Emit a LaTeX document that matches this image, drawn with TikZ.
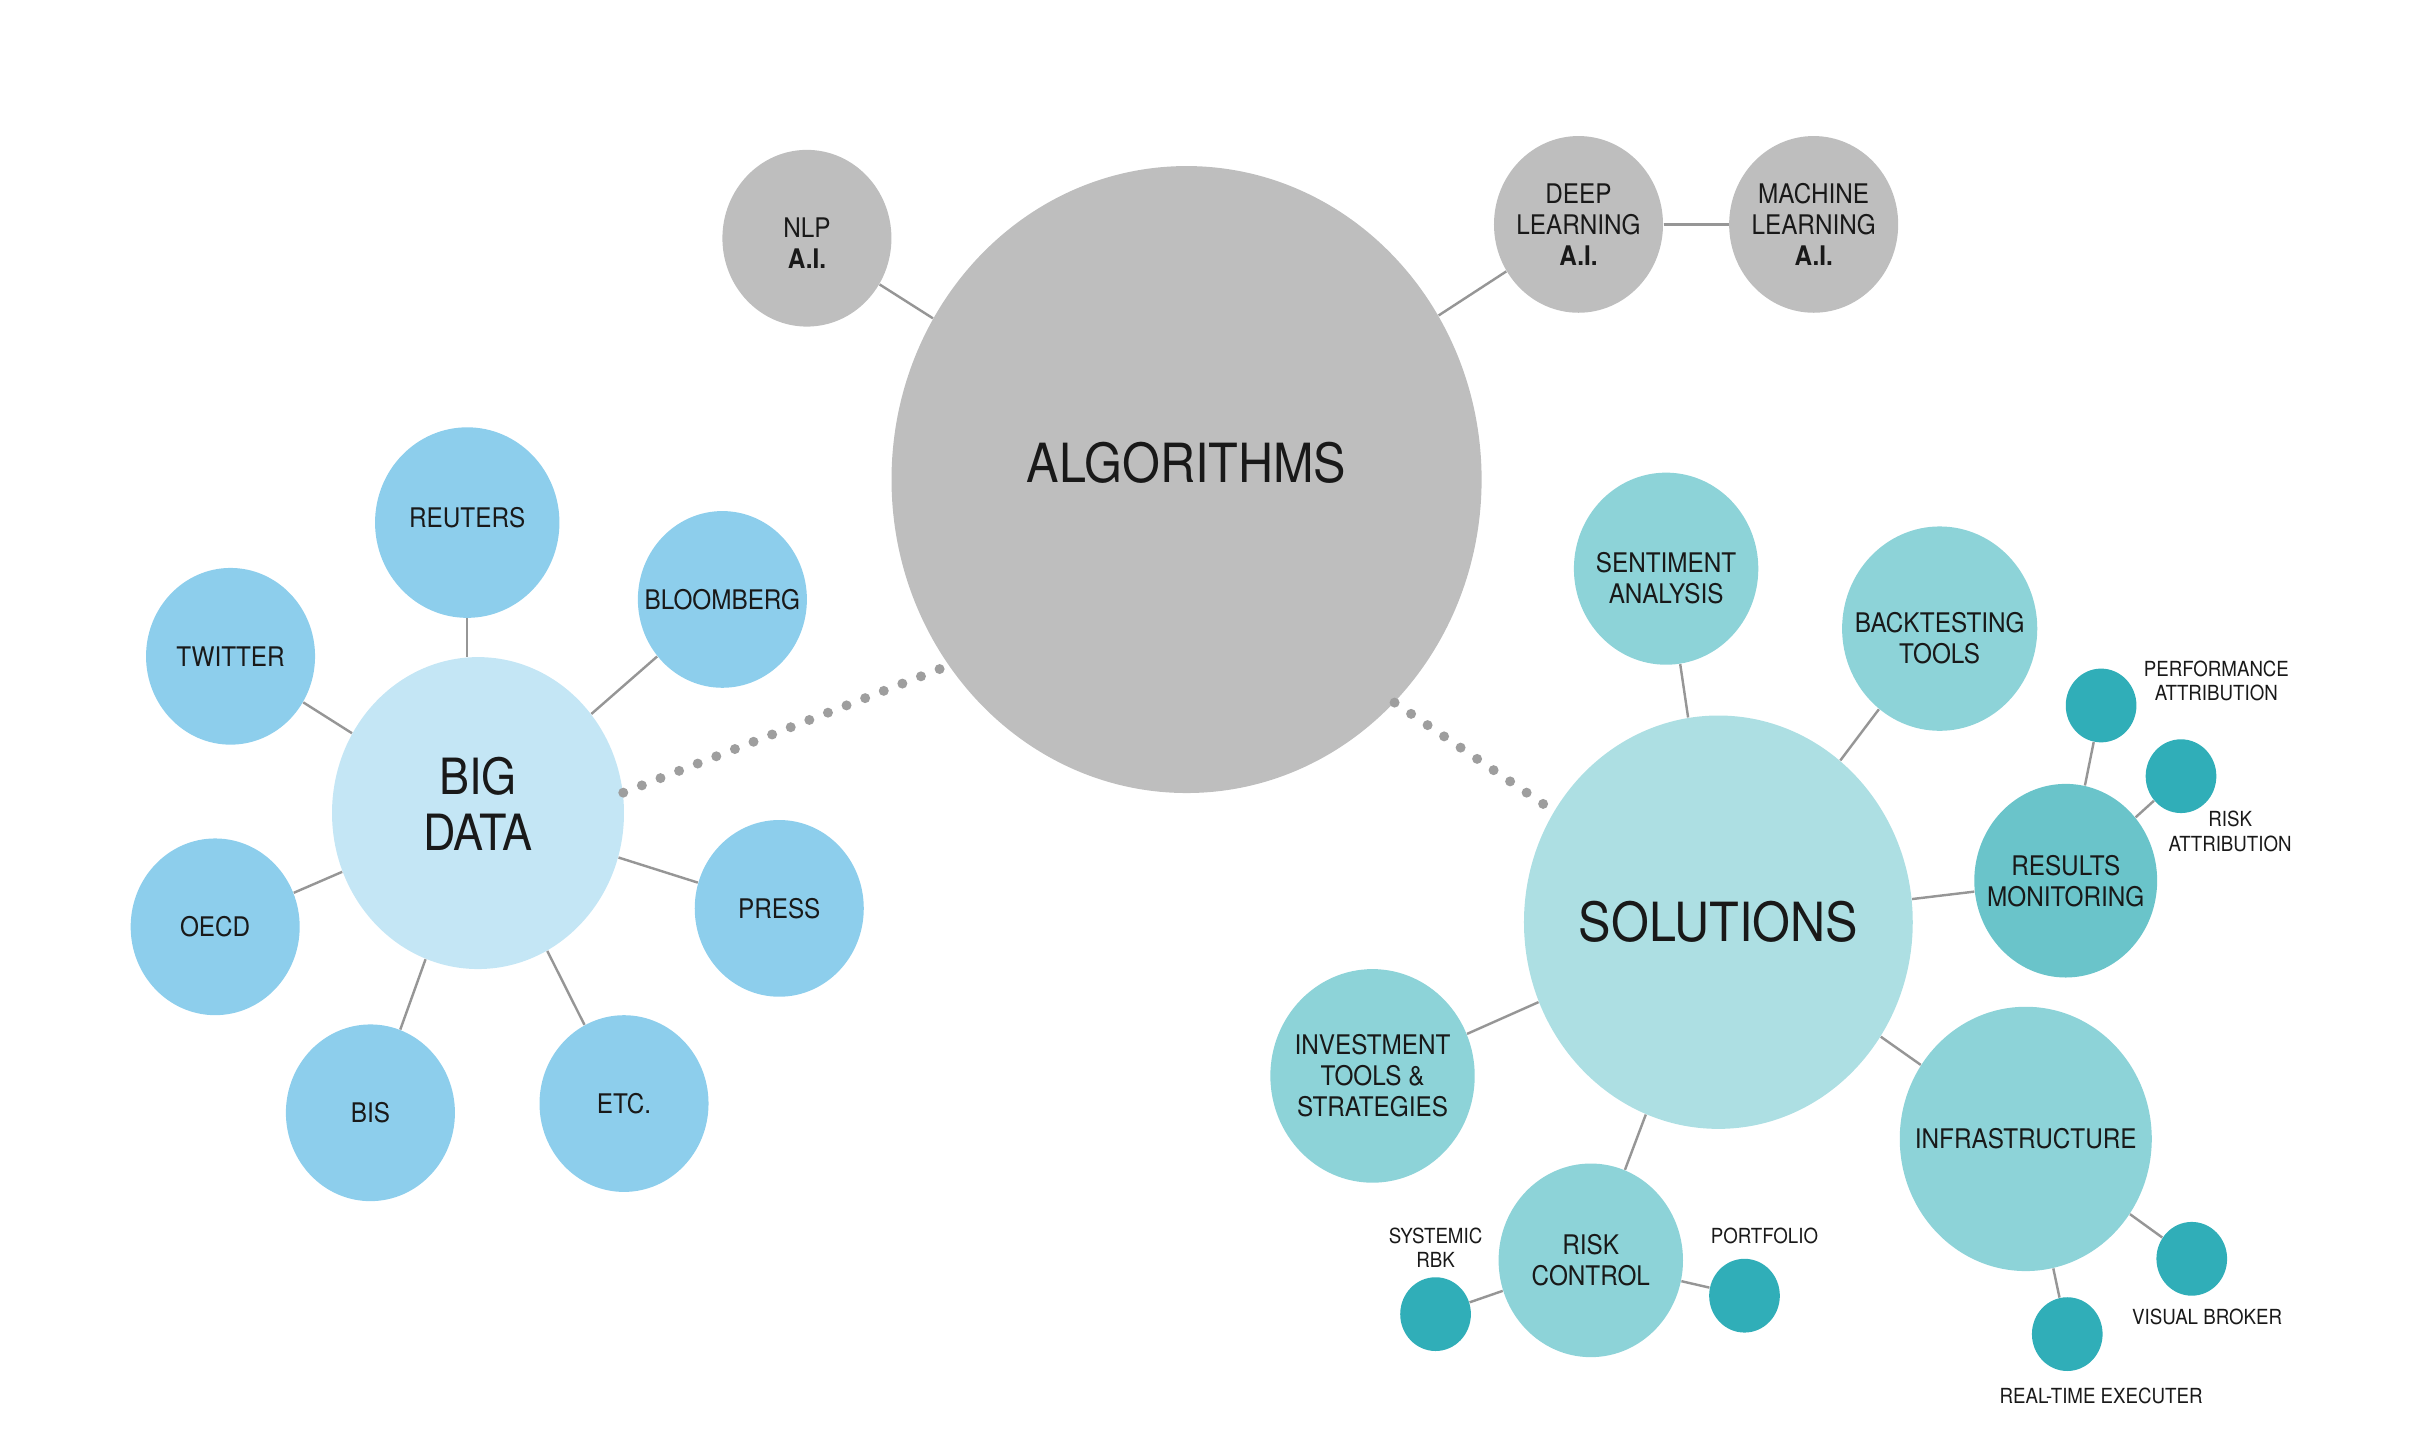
\documentclass[tikz,border=0pt]{standalone}
\usepackage{fontspec}
\setmainfont{TeX Gyre Heros}[FakeStretch=0.9]
\usetikzlibrary{shapes.geometric}

\definecolor{algo}{RGB}{190,190,190}
\definecolor{bigdata}{RGB}{196,230,245}
\definecolor{source}{RGB}{141,206,236}
\definecolor{solution}{RGB}{173,223,227}
\definecolor{tool}{RGB}{141,211,216}
\definecolor{monitor}{RGB}{106,196,202}
\definecolor{leaf}{RGB}{48,174,184}
\definecolor{wire}{RGB}{150,150,150}
\definecolor{dotc}{RGB}{158,158,158}
\definecolor{ink}{RGB}{25,25,25}

\begin{document}
\begin{tikzpicture}[
    x=0.02cm, y=-0.02cm,
    bub/.style n args={3}{ellipse, fill=#1, draw=none, inner sep=0pt, minimum width=#2, minimum height=#3},
    txt/.style={text=ink, align=center, inner sep=0pt, font=\fontsize{10}{11.5}\selectfont},
    huge/.style={text=ink, align=center, inner sep=0pt, font=\fontsize{20}{21}\selectfont},
    tag/.style={text=ink, align=center, inner sep=0pt, font=\fontsize{7.7}{9}\selectfont},
    link/.style={draw=wire, line width=0.9pt},
    dots/.style={draw=dotc, line width=0.13cm, line cap=round, dash pattern=on 0pt off 0.26cm}
  ]
  \useasboundingbox (0,0) rectangle (1568,939);

  \node[bub={algo}{7.68cm}{8.16cm}, label={[huge, yshift=0.22cm]center:ALGORITHMS}] (alg) at (772,312) {};
  \node[bub={algo}{2.2cm}{2.3cm}, label={[txt, yshift=-0.06cm]center:{NLP\\\textbf{A.I.}}}] (nlp) at (525,155) {};
  \node[bub={algo}{2.2cm}{2.3cm}, label={[txt]center:{DEEP\\LEARNING\\\textbf{A.I.}}}] (deep) at (1027,146) {};
  \node[bub={algo}{2.2cm}{2.3cm}, label={[txt]center:{MACHINE\\LEARNING\\\textbf{A.I.}}}] (mach) at (1180,146) {};

  \node[bub={bigdata}{3.8cm}{4.06cm}, label={[huge, yshift=0.12cm, font=\fontsize{18.5}{21}\selectfont]center:{BIG\\DATA}}] (big) at (311,529) {};
  \node[bub={source}{2.4cm}{2.48cm}, label={[txt, yshift=0.06cm]center:REUTERS}] (reuters) at (304,340) {};
  \node[bub={source}{2.2cm}{2.3cm}, label={[txt]center:BLOOMBERG}] (bloomberg) at (470,390) {};
  \node[bub={source}{2.2cm}{2.3cm}, label={[txt]center:TWITTER}] (twitter) at (150,427) {};
  \node[bub={source}{2.2cm}{2.3cm}, label={[txt]center:OECD}] (oecd) at (140,603) {};
  \node[bub={source}{2.2cm}{2.3cm}, label={[txt]center:BIS}] (bis) at (241,724) {};
  \node[bub={source}{2.2cm}{2.3cm}, label={[txt]center:ETC.}] (etc) at (406,718) {};
  \node[bub={source}{2.2cm}{2.3cm}, label={[txt]center:PRESS}] (press) at (507,591) {};

  \node[bub={solution}{5.06cm}{5.38cm}, label={[huge]center:SOLUTIONS}] (sol) at (1118,600) {};
  \node[bub={tool}{2.4cm}{2.5cm}, label={[txt, yshift=-0.12cm]center:{SENTIMENT\\ANALYSIS}}] (senti) at (1084,370) {};
  \node[bub={tool}{2.54cm}{2.66cm}, label={[txt, yshift=-0.12cm]center:{BACKTESTING\\TOOLS}}] (backtest) at (1262,409) {};
  \node[bub={monitor}{2.38cm}{2.52cm}, label={[txt]center:{RESULTS\\MONITORING}}] (results) at (1344,573) {};
  \node[bub={tool}{3.28cm}{3.44cm}, label={[txt]center:INFRASTRUCTURE}] (infra) at (1318,741) {};
  \node[bub={tool}{2.66cm}{2.78cm}, label={[txt]center:{INVESTMENT\\TOOLS \&\\STRATEGIES}}] (invest) at (893,700) {};
  \node[bub={tool}{2.4cm}{2.52cm}, label={[txt]center:{RISK\\CONTROL}}] (risk) at (1035,820) {};

  \node[bub={leaf}{0.92cm}{0.96cm}] (perf) at (1367,459) {};
  \node[bub={leaf}{0.92cm}{0.96cm}] (riskattr) at (1419,505) {};
  \node[bub={leaf}{0.92cm}{0.96cm}] (visual) at (1426,819) {};
  \node[bub={leaf}{0.92cm}{0.96cm}] (realtime) at (1345,868) {};
  \node[bub={leaf}{0.92cm}{0.96cm}] (systemic) at (934,855) {};
  \node[bub={leaf}{0.92cm}{0.96cm}] (portfolio) at (1135,843) {};

  \node[tag] (perf-tag) at (1442,443) {PERFORMANCE\\ATTRIBUTION};
  \node[tag] (riskattr-tag) at (1451,541) {RISK\\ATTRIBUTION};
  \node[tag] (visual-tag) at (1436,857) {VISUAL BROKER};
  \node[tag] (realtime-tag) at (1367,908) {REAL-TIME EXECUTER};
  \node[tag] (systemic-tag) at (934,812) {SYSTEMIC\\RBK};
  \node[tag] (portfolio-tag) at (1148,804) {PORTFOLIO};

  \draw[link] (alg) -- (nlp);
  \draw[link] (alg) -- (deep);
  \draw[link] (deep) -- (mach);
  \draw[link] (reuters) -- (reuters |- big.north);
  \foreach \s in {bloomberg, twitter, oecd, bis, etc, press}
    \draw[link] (big) -- (\s);
  \foreach \s in {senti, backtest, results, infra, invest, risk}
    \draw[link] (sol) -- (\s);
  \draw[link] (results) -- (perf);
  \draw[link] (results) -- (riskattr);
  \draw[link] (infra) -- (visual);
  \draw[link] (infra) -- (realtime);
  \draw[link] (risk) -- (systemic);
  \draw[link] (risk) -- (portfolio);

  \draw[dots] (big.8) -- (alg.218);
  \draw[dots] (alg.313) -- (sol.146);
\end{tikzpicture}
\end{document}
